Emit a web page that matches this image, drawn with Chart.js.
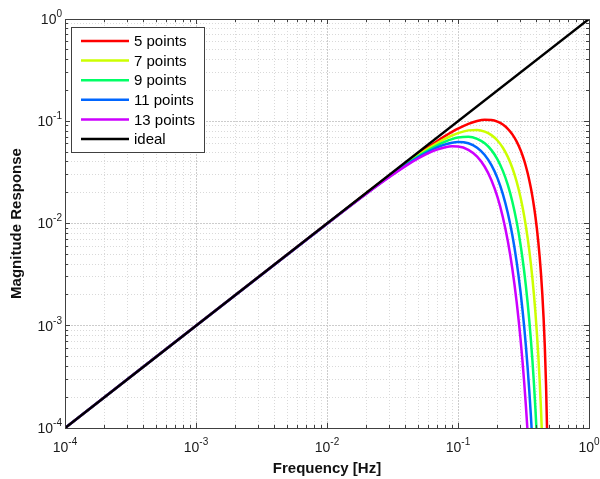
<!DOCTYPE html>
<html>
<head>
<meta charset="utf-8">
<title>Magnitude Response</title>
<script src="https://cdn.jsdelivr.net/npm/chart.js@4/dist/chart.umd.min.js"></script>
<style>
  html, body { margin:0; padding:0; background:#fff; }
  canvas { display:block; }
</style>
</head>
<body>
<canvas id="chart" width="600" height="479"></canvas>
<script>
// frequency axis shared by the filter curves (Hz)
const freqHz = [0.0001, 0.01, 0.02, 0.03, 0.04, 0.05, 0.06, 0.07, 0.08, 0.09,
  0.1, 0.12, 0.14, 0.16, 0.18, 0.2, 0.22, 0.24, 0.26, 0.28,
  0.3, 0.31, 0.32, 0.33, 0.34, 0.35, 0.36, 0.37, 0.38, 0.39,
  0.4, 0.41, 0.42, 0.43, 0.44, 0.45, 0.46, 0.47, 0.48, 0.49];

// magnitude, same index as freqHz (stops once off the axis)
const mag5pts = [0.0001, 0.00998, 0.01987, 0.02956, 0.03896, 0.04798, 0.05653, 0.06454, 0.07193, 0.07864,
  0.08462, 0.09419, 0.1004, 0.1032, 0.1027, 0.09907, 0.09282, 0.08441, 0.07443, 0.06352,
  0.0523, 0.04675, 0.04135, 0.03613, 0.03119, 0.02653, 0.02223, 0.0183, 0.01476, 0.01165,
  0.00893, 0.00664, 0.00474, 0.00323, 0.00206, 0.0012, 0.000622, 0.000264, 0.0000787, 0.0000099];
const mag7pts = [0.0001, 0.00997, 0.01979, 0.0293, 0.03835, 0.0468, 0.05455, 0.06147, 0.06748, 0.07252,
  0.07654, 0.08142, 0.0822, 0.07924, 0.07319, 0.06484, 0.0551, 0.04485, 0.03488, 0.02581,
  0.01807, 0.01477, 0.01187, 0.00936, 0.00724, 0.00547, 0.00403, 0.00289, 0.002, 0.00134,
  0.000853, 0.000517, 0.000293, 0.000153, 0.0000722, 0.0000294];
const mag9pts = [0.0001, 0.00996, 0.01971, 0.02904, 0.03774, 0.04566, 0.05263, 0.05854, 0.06331, 0.06688,
  0.06923, 0.07039, 0.0673, 0.06085, 0.05217, 0.04244, 0.03271, 0.02384, 0.01635, 0.01049,
  0.00624, 0.00467, 0.00341, 0.00243, 0.00168, 0.00113, 0.00073, 0.000455, 0.000271, 0.000153,
  0.0000815, 0.0000402];
const mag11pts = [0.0001, 0.00995, 0.01964, 0.02878, 0.03715, 0.04454, 0.05078, 0.05576, 0.0594, 0.06167,
  0.06262, 0.06085, 0.0551, 0.04673, 0.0372, 0.02778, 0.01942, 0.01266, 0.00766, 0.00426,
  0.00216, 0.00147, 0.000979, 0.000629, 0.00039, 0.000232, 0.000132, 0.0000718, 0.0000367, 0.0000176];
const mag13pts = [0.0001, 0.00994, 0.01956, 0.02853, 0.03657, 0.04345, 0.049, 0.05311, 0.05572, 0.05687,
  0.05664, 0.0526, 0.04511, 0.03589, 0.02652, 0.01818, 0.01153, 0.00673, 0.00359, 0.00173,
  0.000745, 0.000466, 0.000281, 0.000163, 0.0000905, 0.0000479, 0.000024];

const idealFreq = [0.0001, 1];
const idealMag = [0.0001, 1];

const seriesLabels = ["5 points", "7 points", "9 points", "11 points", "13 points", "ideal"];
const seriesColors = ["#ff0000", "#ccff00", "#00ff66", "#0066ff", "#cc00ff", "#000000"];

// axis ticks: decades get a label, 2..9 are minor
const decades = [0.0001, 0.001, 0.01, 0.1, 1];
const decadeExp = ["-4", "-3", "-2", "-1", "0"];
const minorSteps = [2, 3, 4, 5, 6, 7, 8, 9];

const FONT = "'Liberation Sans', Arial, Helvetica, sans-serif";

function logTicks(){
  const out = [];
  decades.forEach((d, i) => {
    out.push({ value: d, major: true });
    if (i < decades.length - 1) minorSteps.forEach(m => out.push({ value: d * m, major: false }));
  });
  return out;
}

function pts(xs, ys){
  return ys.map((y, i) => ({ x: xs[i], y }));
}

function crisp(p){ return Math.round(p - 0.5) + 0.5; }

// box, inward tick marks, superscript tick labels and legend in the MATLAB look
const axesFrame = {
  id: "axesFrame",
  afterDatasetsDraw(chart){
    const { ctx, chartArea: a, scales: { x, y } } = chart;
    ctx.save();
    ctx.strokeStyle = "#404040";
    ctx.lineWidth = 1;
    ctx.beginPath();
    x.ticks.forEach(t => {
      const px = crisp(x.getPixelForValue(t.value));
      const len = t.major ? 5 : 3;
      ctx.moveTo(px, a.bottom); ctx.lineTo(px, a.bottom - len);
      ctx.moveTo(px, a.top); ctx.lineTo(px, a.top + len);
    });
    y.ticks.forEach(t => {
      const py = crisp(y.getPixelForValue(t.value));
      const len = t.major ? 5 : 3;
      ctx.moveTo(a.left, py); ctx.lineTo(a.left + len, py);
      ctx.moveTo(a.right, py); ctx.lineTo(a.right - len, py);
    });
    ctx.stroke();
    ctx.strokeRect(crisp(a.left), crisp(a.top), Math.round(a.right - a.left), Math.round(a.bottom - a.top));
    ctx.restore();
  },
  afterDraw(chart){
    const { ctx, chartArea: a, scales: { x, y } } = chart;
    const base = "14px " + FONT, sup = "10px " + FONT;
    ctx.save();
    ctx.fillStyle = "#1a1a1a";
    ctx.textBaseline = "middle";
    ctx.textAlign = "left";

    decades.forEach((d, i) => {
      ctx.font = base; const w1 = ctx.measureText("10").width;
      ctx.font = sup;  const w2 = ctx.measureText(decadeExp[i]).width;

      // x axis
      const px = x.getPixelForValue(d);
      const x0 = px - (w1 + w2) / 2;
      ctx.font = base; ctx.fillText("10", x0, a.bottom + 20);
      ctx.font = sup;  ctx.fillText(decadeExp[i], x0 + w1, a.bottom + 14);

      // y axis
      const py = y.getPixelForValue(d);
      const y0 = a.left - 3 - w2 - w1;
      ctx.font = base; ctx.fillText("10", y0, py + 1);
      ctx.font = sup;  ctx.fillText(decadeExp[i], y0 + w1, py - 5);
    });

    // legend box
    const lx = 71.5, ly = 27.5, lw = 133, lh = 125;
    ctx.fillStyle = "#ffffff";
    ctx.fillRect(lx, ly, lw, lh);
    ctx.strokeStyle = "#404040";
    ctx.lineWidth = 1;
    ctx.strokeRect(lx, ly, lw, lh);
    ctx.font = "15px " + FONT;
    chart.data.datasets.forEach((ds, i) => {
      const ry = 41 + i * 19.6;
      ctx.strokeStyle = ds.borderColor;
      ctx.lineWidth = 2.5;
      ctx.beginPath();
      ctx.moveTo(81, ry); ctx.lineTo(129, ry);
      ctx.stroke();
      ctx.fillStyle = "#000";
      ctx.fillText(ds.label, 134, ry + 1);
    });
    ctx.restore();
  }
};

function buildChart(){
  const curves = [mag5pts, mag7pts, mag9pts, mag11pts, mag13pts];
  const datasets = curves.map((vals, i) => ({
    label: seriesLabels[i],
    data: pts(freqHz, vals),
    borderColor: seriesColors[i],
    borderWidth: 2.5,
    pointRadius: 0,
    cubicInterpolationMode: "monotone",
    order: curves.length - i
  }));
  datasets.push({
    label: seriesLabels[5],
    data: pts(idealFreq, idealMag),
    borderColor: seriesColors[5],
    borderWidth: 2.5,
    pointRadius: 0,
    order: 0
  });

  // MATLAB-ish dotted grid, decades a touch darker
  const gridColor = c => (c.tick && c.tick.major) ? "#cccccc" : "#d9d9d9";
  const gridDash = c => (c.tick && c.tick.major) ? [2, 1] : [1, 2];

  new Chart(document.getElementById("chart"), {
    type: "line",
    data: { datasets },
    plugins: [axesFrame],
    options: {
      responsive: false,
      animation: false,
      devicePixelRatio: 1,
      layout: { padding: { top: 19, right: 11, left: 0, bottom: 0 } },
      plugins: { legend: { display: false }, tooltip: { enabled: false } },
      scales: {
        x: {
          type: "logarithmic",
          min: 0.0001, max: 1,
          afterBuildTicks: s => { s.ticks = logTicks(); },
          afterFit: s => { s.height = 51; },
          ticks: { display: false, autoSkip: false },
          grid: { color: gridColor, lineWidth: 1, drawTicks: false },
          border: { display: false, dash: gridDash },
          title: {
            display: true, text: "Frequency [Hz]", color: "#111",
            font: { family: FONT, size: 15, weight: "bold" },
            padding: { top: 0, bottom: 1 }
          }
        },
        y: {
          type: "logarithmic",
          min: 0.0001, max: 1,
          afterBuildTicks: s => { s.ticks = logTicks(); },
          afterFit: s => { s.width = 65; },
          ticks: { display: false, autoSkip: false },
          grid: { color: gridColor, lineWidth: 1, drawTicks: false },
          border: { display: false, dash: gridDash },
          title: {
            display: true, text: "Magnitude Response", color: "#111",
            font: { family: FONT, size: 15, weight: "bold" },
            padding: { top: 8, bottom: 0 }
          }
        }
      }
    }
  });
}

document.addEventListener("DOMContentLoaded", buildChart);
</script>
</body>
</html>
